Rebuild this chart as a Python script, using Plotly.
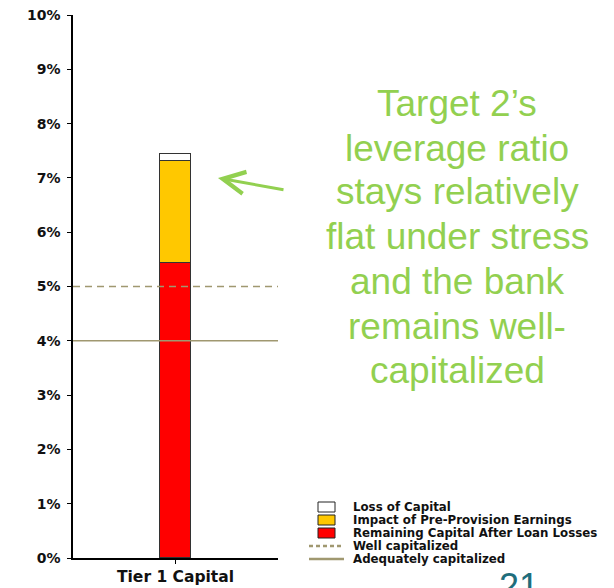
import plotly.graph_objects as go

# Stacked Tier 1 capital bar (values in percent)
categories = ["Tier 1 Capital"]
remaining_capital = [5.43]      # Remaining Capital After Loan Losses
pre_provision = [1.89]          # Impact of Pre-Provision Earnings
loss_of_capital = [0.12]        # Loss of Capital
well_capitalized = 5.0
adequately_capitalized = 4.0

y_ticks = list(range(0, 11))
y_tick_labels = [f"{v}%" for v in y_ticks]

series_names = [
    "Loss of Capital",
    "Impact of Pre-Provision Earnings",
    "Remaining Capital After Loan Losses",
    "Well capitalized",
    "Adequately capitalized",
]
callout_lines = [
    "Target 2\u2019s",
    "leverage ratio",
    "stays relatively",
    "flat under stress",
    "and the bank",
    "remains well-",
    "capitalized",
]

RED = "#FF0000"
YELLOW = "#FFC800"
WHITE = "#FFFFFF"
OLIVE = "#A09870"
GREEN = "#92D050"
EDGE = "#333333"
BOLD_FONT = "DejaVu Sans"

W, H = 614, 588
L, R, T, B = 73, 278, 15, 558  # plot area in pixels


def px(x):
    return (x - L) / (R - L)


def py(y):
    return (B - y) / (B - T)


fig = go.Figure()
for vals, color in [(remaining_capital, RED), (pre_provision, YELLOW), (loss_of_capital, WHITE)]:
    fig.add_trace(go.Bar(
        x=categories, y=vals, width=0.15,
        marker=dict(color=color, line=dict(color=EDGE, width=1)),
        showlegend=False, hoverinfo="skip",
    ))

shapes = [
    dict(type="line", xref="paper", yref="y", x0=0, x1=1,
         y0=well_capitalized, y1=well_capitalized,
         line=dict(color=OLIVE, width=1.6, dash="7px,5px"), layer="above"),
    dict(type="line", xref="paper", yref="y", x0=0, x1=1,
         y0=adequately_capitalized, y1=adequately_capitalized,
         line=dict(color=OLIVE, width=1.6), layer="above"),
]

annotations = []

# legend: three boxes then two line keys
swatch_fill = [WHITE, YELLOW, RED]
row_y = [507, 520, 533, 546, 559]
for i, fill in enumerate(swatch_fill):
    shapes.append(dict(type="rect", xref="paper", yref="paper",
                       x0=px(318), x1=px(335), y0=py(row_y[i] + 5), y1=py(row_y[i] - 5),
                       fillcolor=fill, line=dict(color="#222222", width=1)))
shapes.append(dict(type="line", xref="paper", yref="paper",
                   x0=px(309), x1=px(344), y0=py(row_y[3]), y1=py(row_y[3]),
                   line=dict(color=OLIVE, width=2.5, dash="4px,3px")))
shapes.append(dict(type="line", xref="paper", yref="paper",
                   x0=px(309), x1=px(344), y0=py(row_y[4]), y1=py(row_y[4]),
                   line=dict(color=OLIVE, width=2.5)))
for name, yy in zip(series_names, row_y):
    annotations.append(dict(
        xref="paper", yref="paper", x=px(351), y=py(yy),
        xanchor="left", yanchor="middle", text=name, showarrow=False,
        font=dict(family=BOLD_FONT, size=11.8, color="#111111", weight="bold"),
    ))

# green callout text
baselines = [115, 160, 204, 249, 293, 338, 382]
for line, base in zip(callout_lines, baselines):
    annotations.append(dict(
        xref="paper", yref="paper", x=px(457), y=py(base - 12),
        xanchor="center", yanchor="middle", text=line, showarrow=False,
        font=dict(family="Liberation Sans, Arial", size=37, color=GREEN),
    ))

# arrow pointing at the bar
annotations.append(dict(
    xref="paper", yref="paper", x=px(218), y=py(178), text="",
    showarrow=True, ax=67, ay=12, axref="pixel", ayref="pixel",
    arrowhead=5, arrowsize=1.45, arrowwidth=3, arrowcolor=GREEN,
))

# slide page number, partly cut off at the bottom edge
annotations.append(dict(
    xref="paper", yref="paper", x=px(519), y=py(564),
    xanchor="center", yanchor="top", text="21", showarrow=False,
    font=dict(family="Liberation Sans, Arial", size=36, color="#1F6E7C"),
))

fig.update_layout(
    width=W, height=H,
    margin=dict(l=L, r=W - R, t=T, b=H - B),
    paper_bgcolor="white", plot_bgcolor="white",
    barmode="stack", bargap=0,
    shapes=shapes, annotations=annotations,
    showlegend=False,
    xaxis=dict(
        range=[-0.5, 0.5], showline=True, linecolor="black", linewidth=1.5,
        ticks="outside", ticklen=4, tickcolor="black", showgrid=False,
        tickfont=dict(family=BOLD_FONT, size=15.5, color="#111111", weight="bold"),
        fixedrange=True, automargin=False,
    ),
    yaxis=dict(
        range=[0, 10], tickvals=y_ticks, ticktext=y_tick_labels,
        showline=True, linecolor="black", linewidth=1.5,
        ticks="outside", ticklen=4, tickcolor="black", showgrid=False,
        zeroline=False, ticklabelstandoff=4,
        tickfont=dict(family=BOLD_FONT, size=14, color="#111111", weight="bold"),
        fixedrange=True, automargin=False,
    ),
)

fig.write_html("out.html")
